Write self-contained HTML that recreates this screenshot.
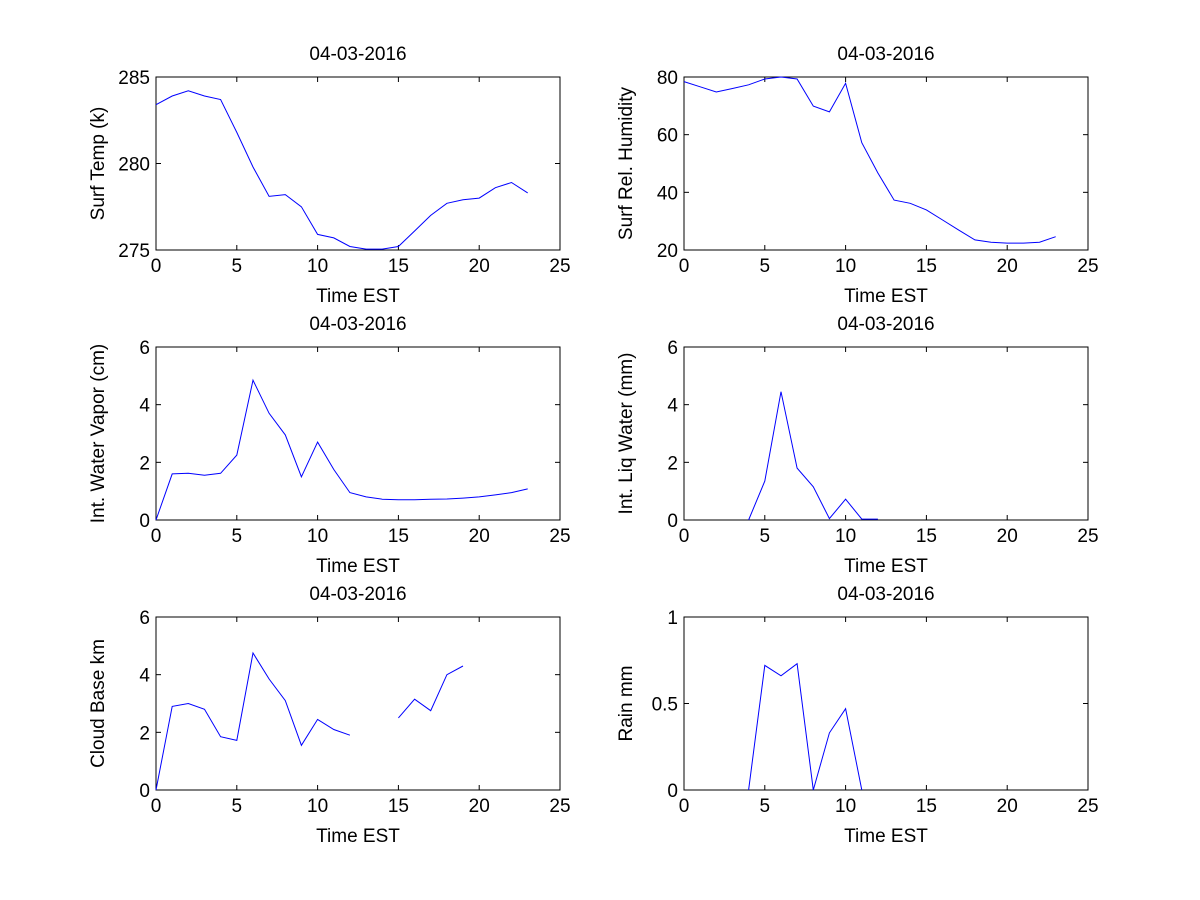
<!DOCTYPE html>
<html><head><meta charset="utf-8"><style>
body{margin:0;background:#fff}
svg{display:block}
text{font-family:"Liberation Sans",Arial,sans-serif;font-size:19px;fill:#000}
</style></head><body>
<svg id="fig" width="1200" height="900" xmlns="http://www.w3.org/2000/svg"></svg>
<script>
const hours = [0,1,2,3,4,5,6,7,8,9,10,11,12,13,14,15,16,17,18,19,20,21,22,23];
const surfTemp = [283.4,283.9,284.2,283.9,283.7,281.8,279.8,278.1,278.2,277.5,275.9,275.7,275.2,275.05,275.05,275.2,276.1,277.0,277.7,277.9,278.0,278.6,278.9,278.3];
const relHum = [78.4,76.6,74.8,76,77.3,79.3,80,79.3,69.9,67.9,77.8,57.2,46.7,37.3,36.2,33.9,30.4,26.9,23.5,22.7,22.4,22.4,22.7,24.6];
const waterVapor = [0,1.6,1.62,1.55,1.62,2.25,4.85,3.7,2.95,1.5,2.7,1.75,0.95,0.8,0.72,0.7,0.7,0.72,0.73,0.76,0.8,0.87,0.95,1.08];
const liqWater = [null,null,null,null,0,1.35,4.45,1.8,1.15,0.05,0.72,0.03,0.03,null,null,null,null,null,null,null,null,null,null,null];
const cloudBase = [0,2.9,3.0,2.8,1.85,1.72,4.75,3.85,3.1,1.55,2.45,2.1,1.9,null,null,2.5,3.15,2.75,4.0,4.3,null,null,null,null];
const rain = [null,null,null,null,0,0.72,0.66,0.73,0,0.33,0.47,0,null,null,null,null,null,null,null,null,null,null,null,null];
const xTicks = [0,5,10,15,20,25];
const panels = [
 {name:'surf-temp',ylabel:'Surf Temp (k)',ymin:275,ymax:285,yt:[275,280,285],data:surfTemp,x0:156,y0:77},
 {name:'rel-humidity',ylabel:'Surf Rel. Humidity',ymin:20,ymax:80,yt:[20,40,60,80],data:relHum,x0:684,y0:77},
 {name:'water-vapor',ylabel:'Int. Water Vapor (cm)',ymin:0,ymax:6,yt:[0,2,4,6],data:waterVapor,x0:156,y0:347},
 {name:'liq-water',ylabel:'Int. Liq Water (mm)',ymin:0,ymax:6,yt:[0,2,4,6],data:liqWater,x0:684,y0:347},
 {name:'cloud-base',ylabel:'Cloud Base km',ymin:0,ymax:6,yt:[0,2,4,6],data:cloudBase,x0:156,y0:617},
 {name:'rain',ylabel:'Rain mm',ymin:0,ymax:1,yt:[0,0.5,1],data:rain,x0:684,y0:617}
];
const W=404,H=173,NS='http://www.w3.org/2000/svg';
const svg=document.getElementById('fig');
function mk(tag,attrs,parent){const e=document.createElementNS(NS,tag);for(const k in attrs)e.setAttribute(k,attrs[k]);parent.appendChild(e);return e;}
panels.forEach(p=>{
 const g=mk('g',{},svg);
 
 
 const sx=v=>p.x0+v/25*W, sy=v=>p.y0+H-(v-p.ymin)/(p.ymax-p.ymin)*H;
 const fr=mk('rect',{x:p.x0,y:p.y0,width:W,height:H,fill:'#fff',stroke:'#000','stroke-width':1},g);
 
 
 xTicks.forEach(t=>{
  const x=sx(t);
  mk('line',{x1:x,x2:x,y1:p.y0+H,y2:p.y0+H-5,stroke:'#000'},g);
  mk('line',{x1:x,x2:x,y1:p.y0,y2:p.y0+5,stroke:'#000'},g);
  const tx=mk('text',{x:x,y:p.y0+H+22,'text-anchor':'middle'},g);tx.textContent=t;
  
  
 });
 p.yt.forEach(t=>{
  const y=sy(t);
  mk('line',{x1:p.x0,x2:p.x0+5,y1:y,y2:y,stroke:'#000'},g);
  mk('line',{x1:p.x0+W,x2:p.x0+W-5,y1:y,y2:y,stroke:'#000'},g);
  const tx=mk('text',{x:p.x0-6,y:y+7,'text-anchor':'end'},g);tx.textContent=t;
  
  
 });
 const ti=mk('text',{x:p.x0+W/2,y:p.y0-17,'text-anchor':'middle'},g);ti.textContent='04-03-2016';
 
 
 const xl=mk('text',{x:p.x0+W/2,y:p.y0+H+52,'text-anchor':'middle'},g);xl.textContent='Time EST';
 
 
 const yx=p.x0-52, yy=p.y0+H/2;
 const yl=mk('text',{x:yx,y:yy,'text-anchor':'middle',transform:`rotate(-90 ${yx} ${yy})`},g);yl.textContent=p.ylabel;
 
 
 let d='',pen=false;
 hours.forEach((h,i)=>{const v=p.data[i];if(v==null){pen=false;return;}d+=(pen?'L':'M')+sx(h).toFixed(1)+' '+sy(v).toFixed(1)+' ';pen=true;});
 const ln=mk('path',{d:d,fill:'none',stroke:'#0000ff','stroke-width':1},g);
 
 
});
</script>
</body></html>
